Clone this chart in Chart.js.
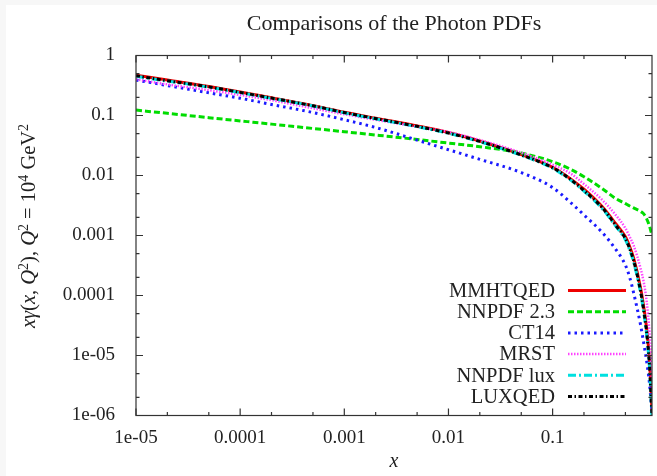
<!DOCTYPE html>
<html>
<head>
<meta charset="utf-8">
<script src="https://cdn.jsdelivr.net/npm/chart.js@4.4.1/dist/chart.umd.min.js"></script>
<style>
  html, body { margin: 0; padding: 0; background: #f7f7f7; }
  #panel { position: absolute; left: 6px; top: 5px; width: 651px; height: 471px; background: #fff; }
  canvas { display: block; }
</style>
</head>
<body>
<div id="panel"><canvas id="pdfChart" width="651" height="471"></canvas></div>
<script>
// --- data ---
const chartTitle = 'Comparisons of the Photon PDFs';
const xGrid = [1e-5, 2e-5, 5e-5, 1e-4, 2e-4, 5e-4, 1e-3, 2e-3, 5e-3, 0.01, 0.02, 0.05,
               0.1, 0.15, 0.2, 0.3, 0.4, 0.5, 0.55, 0.6, 0.7, 0.75, 0.8, 0.85, 0.9];

const mmhtqed  = [0.47, 0.39, 0.305, 0.246, 0.197, 0.146, 0.113, 0.090, 0.067, 0.052, 0.0375, 0.0223,
                  0.0137, 0.0087, 0.0059, 0.0030, 0.0016, 0.00095, 0.00065, 0.00042, 0.000132, 0.000064, 0.000028, 0.0000085, 0.0000012];
const nnpdf23  = [0.123, 0.1087, 0.092, 0.0813, 0.0718, 0.0608, 0.0537, 0.0473, 0.0398, 0.0347, 0.0302, 0.0237,
                  0.017, 0.0126, 0.00955, 0.00603, 0.00417, 0.00339, 0.0031, 0.00288, 0.00251, 0.00229, 0.0019, 0.00145, 0.001];
const ct14     = [0.39, 0.316, 0.239, 0.194, 0.153, 0.112, 0.085, 0.063, 0.0389, 0.0269, 0.0186, 0.0112,
                  0.0063, 0.0035, 0.0022, 0.00112, 0.0006, 0.00032, 0.0002, 0.00011, 0.000032, 0.000016, 0.000008, 0.0000035, 0.0000011];
const mrst     = [0.40, 0.33, 0.265, 0.22, 0.18, 0.132, 0.105, 0.085, 0.065, 0.053, 0.039, 0.024,
                  0.0151, 0.0107, 0.0072, 0.0039, 0.00224, 0.00132, 0.00095, 0.00068, 0.00028, 0.000166, 0.000079, 0.000025, 0.000004];
const nnpdflux = [0.45, 0.375, 0.297, 0.24, 0.193, 0.144, 0.111, 0.088, 0.065, 0.0505, 0.0365, 0.0217,
                  0.0132, 0.0083, 0.0055, 0.0028, 0.00146, 0.00085, 0.00057, 0.00036, 0.00011, 0.000052, 0.000022, 0.0000065, 0.0000009];
const luxqed   = [0.46, 0.38, 0.30, 0.243, 0.195, 0.145, 0.112, 0.089, 0.066, 0.051, 0.037, 0.022,
                  0.0135, 0.0085, 0.0056, 0.0029, 0.0015, 0.00089, 0.00060, 0.00038, 0.000117, 0.000056, 0.000024, 0.0000071, 0.000001];

const seriesNames = ['MMHTQED', 'NNPDF 2.3', 'CT14', 'MRST', 'NNPDF lux', 'LUXQED'];
const xTickVals = [1e-5, 1e-4, 1e-3, 1e-2, 1e-1];
const xTickLabels = ['1e-05', '0.0001', '0.001', '0.01', '0.1'];
const yTickVals = [1e-6, 1e-5, 1e-4, 1e-3, 1e-2, 1e-1, 1];
const yTickLabels = ['1e-06', '1e-05', '0.0001', '0.001', '0.01', '0.1', '1'];
const yTitleParts = [['x', 'i'], ['γ', 'i'], ['(', 'r'], ['x', 'i'], [', ', 'r'], ['Q', 'i'], ['2', 's'], [')', 'r'],
                     [', ', 'r'], ['Q', 'i'], ['2', 's'], [' = 10', 'r'], ['4', 's'], [' GeV', 'r'], ['2', 's']];

const FONT = 'Liberation Serif';
const INK = '#222';

// gnuplot-like line styles
const styles = [
  { color: '#ee0000', dash: [], width: 3 },
  { color: '#00dd00', dash: [6, 3], width: 3 },
  { color: '#1a1aff', dash: [2.5, 4], width: 3 },
  { color: '#ff44ff', dash: [1.5, 1.5], width: 2.5 },
  { color: '#00e0e0', dash: [8, 3, 2, 3], width: 3 },
  { color: '#000000', dash: [4, 2.5, 1.5, 2.5], width: 3 }
];
const allSeries = [mmhtqed, nnpdf23, ct14, mrst, nnpdflux, luxqed];

const datasets = allSeries.map((vals, i) => ({
  label: seriesNames[i],
  data: xGrid.map((x, j) => ({ x: x, y: vals[j] })),
  borderColor: styles[i].color,
  borderDash: styles[i].dash,
  borderWidth: styles[i].width,
  pointRadius: 0,
  fill: false,
  cubicInterpolationMode: 'monotone',
  order: allSeries.length - i   // later series on top, like gnuplot
}));

function minorTicks(majors) {
  const out = [];
  majors.forEach(m => { out.push(m * 2, m * 5); });
  return out;
}

const gnuplotDecor = {
  id: 'gnuplotDecor',
  afterDatasetsDraw(chart) {
    const ctx = chart.ctx;
    const a = chart.chartArea;
    const xs = chart.scales.x, ys = chart.scales.y;
    ctx.save();
    // frame
    ctx.strokeStyle = '#333';
    ctx.lineWidth = 1.2;
    ctx.setLineDash([]);
    ctx.strokeRect(a.left, a.top, a.right - a.left, a.bottom - a.top);

    // inward tick marks, mirrored on top and right
    const tickX = (v, len) => {
      if (v < xs.min || v > xs.max) return;
      const p = xs.getPixelForValue(v);
      ctx.moveTo(p, a.bottom); ctx.lineTo(p, a.bottom - len);
      ctx.moveTo(p, a.top); ctx.lineTo(p, a.top + len);
    };
    const tickY = (v, len) => {
      if (v < ys.min || v > ys.max) return;
      const p = ys.getPixelForValue(v);
      ctx.moveTo(a.left, p); ctx.lineTo(a.left + len, p);
      ctx.moveTo(a.right, p); ctx.lineTo(a.right - len, p);
    };
    ctx.beginPath();
    xTickVals.forEach(v => tickX(v, 7));
    minorTicks(xTickVals).forEach(v => tickX(v, 3.5));
    yTickVals.forEach(v => tickY(v, 7));
    minorTicks(yTickVals).forEach(v => tickY(v, 3.5));
    ctx.stroke();

    // key, bottom right inside the plot
    const textRight = 549, lineL = 562, lineR = 620;
    ctx.font = '20.5px "' + FONT + '"';
    ctx.textAlign = 'right';
    ctx.textBaseline = 'middle';
    chart.data.datasets.forEach((ds, i) => {
      const yy = 285.5 + i * 21.2;
      ctx.fillStyle = INK;
      ctx.fillText(ds.label, textRight, yy + 1);
      ctx.strokeStyle = ds.borderColor;
      ctx.lineWidth = ds.borderWidth;
      ctx.setLineDash(ds.borderDash);
      ctx.beginPath();
      ctx.moveTo(lineL, yy);
      ctx.lineTo(lineR, yy);
      ctx.stroke();
    });
    ctx.setLineDash([]);

    // rotated y-axis title with math styling (superscripts raised)
    const size = 20.5;
    const fontOf = k => k === 'i' ? 'italic ' + size + 'px "' + FONT + '"'
                     : k === 's' ? Math.round(size * 0.7) + 'px "' + FONT + '"'
                     : size + 'px "' + FONT + '"';
    let total = 0;
    yTitleParts.forEach(([t, k]) => { ctx.font = fontOf(k); total += ctx.measureText(t).width; });
    ctx.translate(22, 221);
    ctx.rotate(-Math.PI / 2);
    ctx.textAlign = 'left';
    ctx.textBaseline = 'alphabetic';
    ctx.fillStyle = INK;
    let px = -total / 2;
    yTitleParts.forEach(([t, k]) => {
      ctx.font = fontOf(k);
      ctx.fillText(t, px, k === 's' ? 0 : 7);
      px += ctx.measureText(t).width;
    });
    ctx.restore();
  }
};

new Chart(document.getElementById('pdfChart'), {
  type: 'line',
  data: { datasets: datasets },
  options: {
    responsive: false,
    animation: false,
    devicePixelRatio: 1,
    layout: { padding: { left: 0, right: 5, top: 0, bottom: 0 } },
    plugins: {
      legend: { display: false },
      tooltip: { enabled: false },
      title: {
        display: true,
        text: chartTitle,
        fullSize: false,
        align: 'center',
        color: INK,
        font: { family: FONT, size: 22, weight: 'normal' },
        padding: { top: 6, bottom: 18.1 }
      }
    },
    scales: {
      x: {
        type: 'logarithmic',
        position: 'bottom',
        min: 1e-5,
        max: 0.9,
        grid: { display: false, drawTicks: false },
        border: { display: false },
        afterBuildTicks: s => { s.ticks = xTickVals.map(v => ({ value: v })); },
        afterFit: s => { s.height = 60.5; },
        ticks: {
          autoSkip: false,
          maxRotation: 0,
          padding: 11,
          color: INK,
          font: { family: FONT, size: 19 },
          callback: (v, i) => xTickLabels[i]
        },
        title: {
          display: true,
          text: 'x',
          color: INK,
          font: { family: FONT, size: 20, style: 'italic' },
          padding: { top: 0, bottom: 2 }
        }
      },
      y: {
        type: 'logarithmic',
        min: 1e-6,
        max: 1,
        grid: { display: false, drawTicks: false },
        border: { display: false },
        afterBuildTicks: s => { s.ticks = yTickVals.map(v => ({ value: v })); },
        afterFit: s => { s.width = 130; },
        ticks: {
          autoSkip: false,
          padding: 21,
          color: INK,
          font: { family: FONT, size: 19 },
          callback: (v, i) => yTickLabels[i]
        }
      }
    }
  },
  plugins: [gnuplotDecor]
});
</script>
</body>
</html>
